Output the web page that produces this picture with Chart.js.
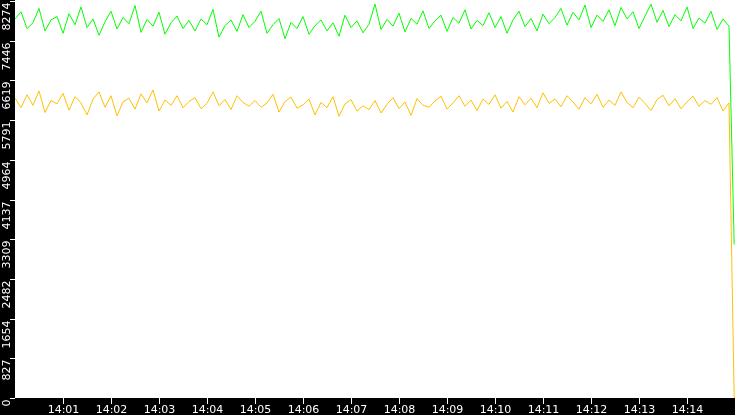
<!DOCTYPE html>
<html>
<head>
<meta charset="utf-8">
<script src="https://cdn.jsdelivr.net/npm/chart.js@4/dist/chart.umd.min.js"></script>
<style>
  html, body { margin: 0; padding: 0; background: #fff; }
  #wrap { width: 735px; height: 415px; }
</style>
</head>
<body>
<div id="wrap"><canvas id="trafficChart" width="735" height="415"></canvas></div>
<script>
// samples every 7.5 s starting 14:00:00, last sample is the drop at the end
const stepSeconds = 7.5;
const yTicks = [0, 827, 1654, 2482, 3309, 4137, 4964, 5791, 6619, 7446, 8274];
const xTickLabels = ['14:01', '14:02', '14:03', '14:04', '14:05', '14:06', '14:07',
  '14:08', '14:09', '14:10', '14:11', '14:12', '14:13', '14:14'];

const greenValues = [
  7900, 8050, 7700, 7820, 8120, 7650, 7880, 7950, 7600, 8010,
  7780, 8150, 7720, 7900, 7560, 7840, 8060, 7690, 7930, 7800,
  8180, 7620, 7890, 7750, 8040, 7580, 7820, 7960, 7700, 7870,
  7650, 7900, 7780, 8100, 7520, 7760, 7880, 7640, 7990, 7720,
  7850, 8060, 7600, 7780, 7910, 7490, 7830, 7700, 7950, 7580,
  7760, 7880, 7650, 7820, 7540, 7980, 7720, 7860, 7610, 7790,
  8210, 7680, 7890, 7750, 8020, 7630, 7910, 7790, 8070, 7700,
  7860, 7980, 7640, 7930, 7810, 8090, 7690, 7870, 7760, 8030,
  7720, 7950, 7600, 7880, 8060, 7740, 7910, 7650, 8000, 7800,
  7930, 8120, 7770, 8040, 7880, 8190, 7720, 7980, 7850, 8090,
  7760, 8140, 7900, 8050, 7700, 7960, 8210, 7830, 8080, 7740,
  7990, 7860, 8150, 7700, 7920, 7810, 8060, 7680, 7900, 7750,
  3200
];

const yellowValues = [
  6250, 6050, 6320, 6100, 6400, 5950, 6200, 6130, 6350, 6000,
  6280, 6150, 5900, 6230, 6380, 6060, 6300, 5880, 6170, 6250,
  6020, 6340, 6150, 6420, 5980, 6210, 6100, 6300, 6050, 6180,
  6260, 6030, 6140, 6380, 6090, 6220, 6010, 6300, 6160, 6080,
  6200, 6060, 6150, 6330, 5960, 6180, 6270, 6040, 6110, 6230,
  5900, 6160, 6050, 6280, 5870, 6130, 6220, 5980, 6090, 6010,
  6200, 5940, 6120, 6260, 6030, 6170, 5890, 6240, 6100, 6060,
  6190, 6290, 6020, 6150, 6300, 6080, 6210, 5990, 6230, 6120,
  6320, 6040, 6180, 5960, 6280, 6110, 6250, 6050, 6360, 6140,
  6230, 6070, 6300, 6170, 6020, 6260, 6130, 6330, 6060, 6210,
  6100, 6380, 6160, 6050, 6270, 6140, 5990, 6220, 6310, 6090,
  6240, 6030, 6170, 6290, 6080, 6200, 6120, 6260, 5980, 6150,
  0
];

function toPoints(values, step) {
  return values.map((v, i) => ({ x: Math.min(i * step, 899), y: v }));
}

function toMinute(label) {
  const m = parseInt(label.split(':')[1], 10);
  return m * 60;
}

const axisPainter = {
  id: 'axisPainter',
  afterDraw(chart) {
    const ctx = chart.ctx;
    const area = chart.chartArea;
    const xs = chart.scales.x;
    const ys = chart.scales.y;
    ctx.save();
    ctx.fillStyle = '#000';
    ctx.fillRect(0, 0, area.left, chart.height);
    ctx.fillRect(0, area.bottom, chart.width, chart.height - area.bottom);
    ctx.strokeStyle = '#fff';
    ctx.fillStyle = '#fff';
    ctx.lineWidth = 1;
    ctx.font = '11px "DejaVu Sans"';

    yTicks.forEach(t => {
      const py = Math.round(ys.getPixelForValue(t)) + 0.5;
      ctx.beginPath();
      ctx.moveTo(area.left - 5, py);
      ctx.lineTo(area.left, py);
      ctx.stroke();
      ctx.save();
      ctx.translate(10, py + 1);
      ctx.rotate(-Math.PI / 2);
      ctx.textAlign = 'right';
      ctx.textBaseline = 'alphabetic';
      ctx.fillText(String(t), 0, 0);
      ctx.restore();
    });

    xTickLabels.forEach(lbl => {
      const px = Math.round(xs.getPixelForValue(toMinute(lbl))) + 0.5;
      ctx.beginPath();
      ctx.moveTo(px, area.bottom);
      ctx.lineTo(px, area.bottom + 6);
      ctx.stroke();
      ctx.textAlign = 'center';
      ctx.textBaseline = 'alphabetic';
      ctx.fillText(lbl, px, chart.height - 2);
    });
    ctx.restore();
  }
};

const lineStyle = { borderWidth: 1, pointRadius: 0, tension: 0, fill: false };

new Chart(document.getElementById('trafficChart'), {
  type: 'line',
  data: {
    datasets: [
      { ...lineStyle, data: toPoints(greenValues, stepSeconds), borderColor: '#00ff00', order: 2 },
      { ...lineStyle, data: toPoints(yellowValues, stepSeconds), borderColor: '#ffc000', order: 1 }
    ]
  },
  options: {
    responsive: false,
    animation: false,
    devicePixelRatio: 1,
    layout: { padding: { left: 15, bottom: 17, top: 0, right: 0 } },
    plugins: { legend: { display: false }, tooltip: { enabled: false } },
    scales: {
      x: { type: 'linear', min: 0, max: 900, display: false },
      y: { min: 0, max: 8295, display: false }
    }
  },
  plugins: [axisPainter]
});
</script>
</body>
</html>
